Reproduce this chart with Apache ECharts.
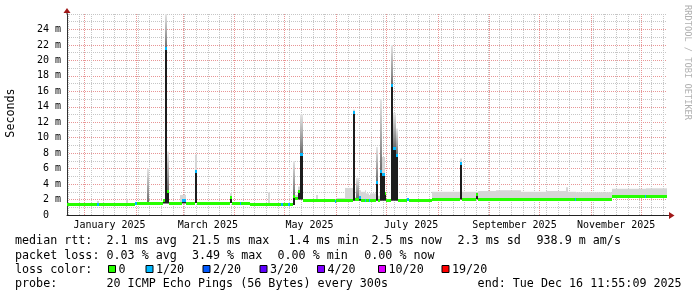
<!DOCTYPE html>
<html><head><meta charset="utf-8">
<script src="https://cdn.jsdelivr.net/npm/echarts@6/dist/echarts.min.js"></script>
<style>html,body{margin:0;padding:0;background:#fff}#c{width:697px;height:297px}</style>
</head><body><div id="c"></div>
<script>
// ---------------- DATA ----------------
const startTime = '2024-12-21 11:55';
const endTime = '2025-12-16 11:55';
const xTickDates = ['2025-01-16', '2025-03-16', '2025-05-16', '2025-07-16', '2025-09-16', '2025-11-16'];
const xTickLabels = ['January 2025', 'March 2025', 'May 2025', 'July 2025', 'September 2025', 'November 2025'];
const yTickValues = [0, 2, 4, 6, 8, 10, 12, 14, 16, 18, 20, 22, 24];

// time runs: each value holds from its start until the next start (ms = milliseconds)
const runStart = [
  '2024-12-21 11:55', '2025-01-08 12', '2025-01-09 12', '2025-01-26 00', '2025-01-27 00',
  '2025-01-31 12', '2025-02-01 12', '2025-02-07 12', '2025-02-08 12', '2025-02-17 00',
  '2025-02-18 06', '2025-02-19 12', '2025-02-20 12', '2025-02-27 00', '2025-02-28 18',
  '2025-03-03 00', '2025-03-08 12', '2025-03-09 12', '2025-03-29 12', '2025-03-30 12',
  '2025-04-04 00', '2025-04-05 00', '2025-04-10 06', '2025-04-21 06', '2025-04-22 06',
  '2025-04-29 00', '2025-04-30 00', '2025-05-03 00', '2025-05-04 00', '2025-05-06 00',
  '2025-05-07 12', '2025-05-09 00', '2025-05-10 12', '2025-05-12 06', '2025-05-20 00',
  '2025-05-21 00', '2025-05-31 00', '2025-06-01 00', '2025-06-06 12', '2025-06-11 00',
  '2025-06-12 12', '2025-06-13 00', '2025-06-14 12', '2025-06-16 00', '2025-06-18 00',
  '2025-06-19 00', '2025-06-20 12', '2025-06-21 12', '2025-06-25 00', '2025-06-26 00',
  '2025-06-27 00', '2025-06-28 12', '2025-06-30 00', '2025-07-01 00', '2025-07-03 18',
  '2025-07-05 06', '2025-07-06 18', '2025-07-08 06', '2025-07-13 12', '2025-07-14 12',
  '2025-07-28 12', '2025-08-14 12', '2025-08-15 12', '2025-08-24 00', '2025-08-25 00',
  '2025-09-05 00', '2025-09-20 00', '2025-10-05 00', '2025-10-17 00', '2025-10-18 00',
  '2025-10-22 00', '2025-10-23 00', '2025-11-13 06', '2025-12-03 00', '2025-12-04 00'
];
const runLow = [
  1.42, 1.42, 1.42, 1.42, 1.42,
  1.5, 1.5, 1.5, 1.5, 1.5,
  1.5, 1.5, 1.5, 1.5, 1.5,
  1.55, 1.55, 1.55, 1.55, 1.55,
  1.55, 1.55, 1.3, 1.3, 1.3,
  1.3, 1.3, 1.3, 1.3, 1.3,
  2.0, 2.0, 2.0, 1.85, 1.85,
  1.85, 1.85, 1.85, 1.85, 1.85,
  1.85, 1.85, 1.85, 1.85, 1.85,
  1.85, 1.85, 1.85, 1.85, 1.85,
  1.85, 1.85, 1.85, 1.85, 1.85,
  1.85, 1.85, 1.85, 1.85, 1.85,
  2.0, 2.0, 2.05, 2.05, 2.05,
  2.05, 2.0, 2.0, 2.0, 2.0,
  2.0, 2.0, 2.45, 2.45, 2.45
];
const runMedian = [
  1.42, 1.42, 1.42, 1.42, 1.42,
  1.5, 1.5, 1.5, 1.5, 1.85,
  21.5, 3.1, 1.5, 1.5, 1.9,
  1.55, 5.6, 1.55, 2.3, 1.55,
  1.55, 1.55, 1.3, 1.3, 1.3,
  1.3, 1.3, 1.3, 1.3, 2.4,
  2.1, 3.0, 7.85, 1.85, 1.85,
  1.85, 1.8, 1.85, 1.85, 13.2,
  1.95, 2.0, 2.2, 1.85, 1.9,
  1.85, 1.9, 1.85, 4.2, 1.85,
  5.6, 5.3, 2.8, 1.85, 16.7,
  8.6, 7.7, 1.85, 1.95, 1.85,
  2.0, 6.7, 2.05, 2.6, 2.05,
  2.05, 2.0, 2.0, 2.0, 2.0,
  2.0, 2.0, 2.45, 2.45, 2.45
];
const runHigh = [
  1.42, 1.8, 1.42, 2.0, 1.42,
  1.5, 1.5, 6.0, 1.5, 1.9,
  26.0, 8.2, 1.5, 2.6, 2.6,
  1.55, 7.8, 1.55, 2.8, 1.55,
  1.55, 1.55, 1.3, 2.9, 1.3,
  1.3, 1.3, 1.3, 1.3, 7.0,
  2.6, 3.7, 13.0, 1.85, 2.6,
  1.85, 1.85, 2.2, 3.5, 13.6,
  2.3, 4.8, 3.2, 3.0, 3.2,
  2.8, 2.6, 2.8, 8.8, 2.5,
  15.0, 7.5, 3.0, 1.85, 22.0,
  13.2, 11.2, 1.85, 2.2, 1.85,
  3.0, 7.3, 3.0, 2.9, 3.1,
  3.2, 3.0, 3.1, 3.6, 3.0,
  3.0, 2.95, 3.4, 3.4, 3.45
];
const runLoss = [
  0, 1, 0, 0, 0,
  1, 0, 0, 0, 0,
  1, 0, 0, 0, 1,
  0, 1, 0, 0, 0,
  1, 0, 0, 0, 0,
  1, 0, 1, 0, 0,
  0, 0, 1, 0, 0,
  0, 1, 0, 0, 1,
  0, 0, 1, 0, 1,
  0, 1, 0, 1, 0,
  1, 1, 0, 0, 1,
  1, 1, 0, 1, 0,
  0, 1, 0, 0, 0,
  0, 0, 0, 0, 0,
  1, 0, 0, 1, 0
];

const lossLabels = ['0', '1/20', '2/20', '3/20', '4/20', '10/20', '19/20'];
const lossColors = ['#26ff00', '#00b8ff', '#0059ff', '#5e00ff', '#7e00ff', '#dd00ff', '#ff0000'];
const rttStats = ['2.1 ms avg', '21.5 ms max', '1.4 ms min', '2.5 ms now', '2.3 ms sd', '938.9 m am/s'];
const lossStats = ['0.03 % avg', '3.49 % max', '0.00 % min', '0.00 % now'];
const rowLabels = ['median rtt:', 'packet loss:', 'loss color:', 'probe:'];
const probeText = '20 ICMP Echo Pings (56 Bytes) every 300s';
const endText = 'end: Tue Dec 16 11:55:09 2025';
const yTitle = 'Seconds';
const watermark = 'RRDTOOL / TOBI OETIKER';

// ---------------- LAYOUT ----------------
const MONO = '"DejaVu Sans Mono", monospace';
const legendFont = '11.7px ' + MONO;
const rowY = [241, 255.5, 269.5, 284];
const rttX = [106.5, 191.9, 288.4, 371.5, 457.5, 536.5];
const lossStatX = [106.5, 191.9, 277.5, 364.2];
const boxX = [108.5, 146, 203, 260, 317.5, 378.5, 442];
const RED = '#e89595';
const GRAY = '#c6c6c6';

function parseT(s) {
  const [d, h] = s.split(' ');
  const [Y, M, D] = d.split('-').map(Number);
  let hh = 0, mm = 0;
  if (h) { const p = h.split(':'); hh = +p[0]; mm = +(p[1] || 0); }
  return Date.UTC(Y, M - 1, D, hh, mm);
}
const T0 = parseT(startTime), T1 = parseT(endTime);
const DAY = 86400000;

const monthTicks = [];
for (let m = 0; m < 12; m++) monthTicks.push(Date.UTC(2025, m, 1));
const weekTicks = [];
{
  let d = Date.UTC(2024, 11, 21);
  while (d < T0 || new Date(d).getUTCDay() !== 0) d += DAY;
  for (; d < T1; d += 7 * DAY) weekTicks.push(d);
}
const labelTicks = xTickDates.map(parseT);

const runData = runStart.map((s, i) => [
  parseT(s), i + 1 < runStart.length ? parseT(runStart[i + 1]) : T1,
  runLow[i], runMedian[i], runHigh[i], runLoss[i]
]);

function renderItem(params, api) {
  const t0 = api.value(0), t1 = api.value(1);
  const lo = api.value(2), med = api.value(3), hi = api.value(4), loss = api.value(5);
  const x0 = Math.round(api.coord([t0, med])[0]);
  const x1 = Math.round(api.coord([t1, med])[0]);
  const w = Math.max(1, x1 - x0);
  const yLo = api.coord([t0, lo])[1];
  const yMed = api.coord([t0, med])[1];
  const yHi = api.coord([t0, hi])[1];
  const children = [];
  if (hi > med) {
    const fill = (hi - med > 2.5) ? {
      type: 'linear', x: 0, y: 0, x2: 0, y2: 1, global: false,
      colorStops: [{ offset: 0, color: '#e6e6e6' }, { offset: 1, color: '#6a6a6a' }]
    } : '#d6d6d6';
    children.push({ type: 'rect', shape: { x: x0, y: yHi, width: w, height: yMed - yHi }, style: { fill: fill } });
  }
  if (med - lo > 0.25) {
    children.push({ type: 'rect', shape: { x: x0, y: yMed, width: w, height: yLo - yMed }, style: { fill: '#1c1c1c' } });
  }
  children.push({ type: 'rect', shape: { x: x0, y: Math.round(yMed - 1.5), width: w, height: 3 }, style: { fill: lossColors[loss] } });
  return { type: 'group', children: children };
}

const graphics = [];
// axis extensions and arrows
graphics.push({ type: 'line', shape: { x1: 67, y1: 14.5, x2: 67, y2: 11 }, style: { stroke: '#333', lineWidth: 1 } });
graphics.push({ type: 'polygon', shape: { points: [[63.5, 13], [70.5, 13], [67, 8]] }, style: { fill: '#a01818' } });
graphics.push({ type: 'line', shape: { x1: 666, y1: 215.5, x2: 670, y2: 215.5 }, style: { stroke: '#333', lineWidth: 1 } });
graphics.push({ type: 'polygon', shape: { points: [[669, 212], [669, 219], [674.5, 215.5]] }, style: { fill: '#a01818' } });
// y title
graphics.push({ type: 'text', x: 11, y: 113, rotation: Math.PI / 2,
  style: { text: yTitle, font: legendFont, fill: '#000', align: 'center', verticalAlign: 'middle' } });
// watermark
graphics.push({ type: 'text', x: 687.5, y: 5, rotation: -Math.PI / 2,
  style: { text: watermark, font: '8.7px ' + MONO, fill: '#b0b0b0', align: 'left', verticalAlign: 'middle' } });
// legend rows
rowLabels.forEach((t, i) => graphics.push({ type: 'text', x: 15, y: rowY[i],
  style: { text: t, font: legendFont, fill: '#000', verticalAlign: 'middle' } }));
rttStats.forEach((t, i) => graphics.push({ type: 'text', x: rttX[i], y: rowY[0],
  style: { text: t, font: legendFont, fill: '#000', verticalAlign: 'middle' } }));
lossStats.forEach((t, i) => graphics.push({ type: 'text', x: lossStatX[i], y: rowY[1],
  style: { text: t, font: legendFont, fill: '#000', verticalAlign: 'middle' } }));
lossLabels.forEach((t, i) => {
  graphics.push({ type: 'rect', shape: { x: boxX[i], y: 265.5, width: 7, height: 7 },
    style: { fill: lossColors[i], stroke: '#000', lineWidth: 1 } });
  graphics.push({ type: 'text', x: boxX[i] + 10, y: rowY[2],
    style: { text: t, font: legendFont, fill: '#000', verticalAlign: 'middle' } });
});
graphics.push({ type: 'text', x: 106.5, y: rowY[3], style: { text: probeText, font: legendFont, fill: '#000', verticalAlign: 'middle' } });
graphics.push({ type: 'text', x: 477.6, y: rowY[3], style: { text: endText, font: legendFont, fill: '#000', verticalAlign: 'middle' } });

const redColors = yTickValues.map(() => RED).concat([GRAY]);

const chart = echarts.init(document.getElementById('c'), null, { renderer: 'canvas' });
chart.setOption({
  animation: false,
  backgroundColor: '#ffffff',
  grid: { left: 67, right: 30, top: 14, bottom: 82 },
  xAxis: [{
    type: 'value', min: T0, max: T1,
    axisLine: { show: true, onZero: false, lineStyle: { color: '#222', width: 1 } },
    axisTick: { show: false, customValues: weekTicks },
    splitLine: { show: true, lineStyle: { color: GRAY, width: 1, type: [1, 1] } },
    axisLabel: {
      customValues: labelTicks,
      formatter: v => xTickLabels[labelTicks.indexOf(v)] || '',
      fontFamily: MONO, fontSize: 10, color: '#000', margin: 5
    }
  }, {
    type: 'value', min: T0, max: T1, position: 'top',
    axisLine: { show: false }, axisLabel: { show: false },
    axisTick: { show: false, customValues: monthTicks },
    splitLine: { show: true, lineStyle: { color: RED, width: 1, type: [1, 1] } }
  }],
  yAxis: {
    type: 'value', min: 0, max: 26, interval: 2,
    axisLine: { show: true, lineStyle: { color: '#333', width: 1 } },
    axisTick: { show: false },
    minorTick: { show: false, splitNumber: 2 },
    minorSplitLine: { show: true, lineStyle: { color: GRAY, width: 1, type: [1, 1] } },
    splitLine: { show: true, lineStyle: { color: redColors, width: 1, type: [1, 1] } },
    axisLabel: {
      formatter: v => (yTickValues.indexOf(v) < 0 ? '' : (v === 0 ? '0  ' : v + ' m')),
      fontFamily: MONO, fontSize: 10, color: '#000', margin: 6
    }
  },
  series: [{
    type: 'custom', xAxisIndex: 0, yAxisIndex: 0, clip: true,
    renderItem: renderItem, data: runData,
    encode: { x: [0, 1], y: [2, 3, 4] }
  }],
  graphic: graphics
});
</script></body></html>
